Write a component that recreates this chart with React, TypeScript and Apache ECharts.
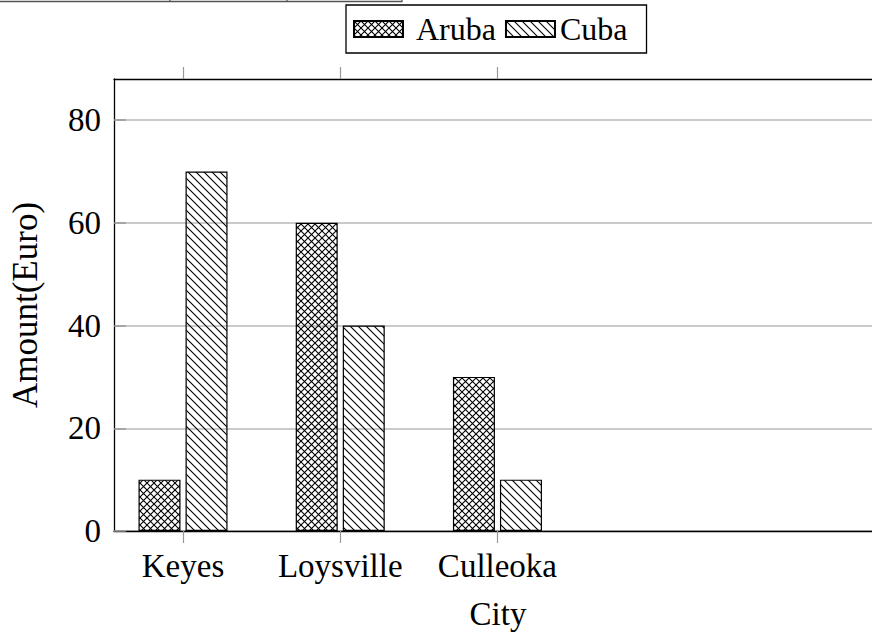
import React, { useEffect, useRef } from "react";
import * as echarts from "echarts";

const categories = ["Keyes", "Loysville", "Culleoka"];
const arubaValues = [10, 60, 30];
const cubaValues = [70, 40, 10];
const yTicks = [0, 20, 40, 60, 80];
const seriesNames = ["Aruba", "Cuba"];

const FONT = "Liberation Serif";

function makeCrosshatch(): HTMLCanvasElement {
  const s = 7;
  const c = document.createElement("canvas");
  c.width = s;
  c.height = s;
  const ctx = c.getContext("2d")!;
  ctx.strokeStyle = "#000";
  ctx.lineWidth = 1.1;
  ctx.beginPath();
  ctx.moveTo(-1, -1);
  ctx.lineTo(s + 1, s + 1);
  ctx.moveTo(-1, s + 1);
  ctx.lineTo(s + 1, -1);
  ctx.stroke();
  return c;
}

function makeNWLines(): HTMLCanvasElement {
  const s = 8;
  const c = document.createElement("canvas");
  c.width = s;
  c.height = s;
  const ctx = c.getContext("2d")!;
  ctx.strokeStyle = "#000";
  ctx.lineWidth = 1.1;
  ctx.beginPath();
  ctx.moveTo(-1, -1);
  ctx.lineTo(s + 1, s + 1);
  ctx.moveTo(-1, s - 1);
  ctx.lineTo(1, s + 1);
  ctx.moveTo(s - 1, -1);
  ctx.lineTo(s + 1, 1);
  ctx.stroke();
  return c;
}

export default function App() {
  const ref = useRef<HTMLDivElement>(null);
  useEffect(() => {
    if (!ref.current) return;
    const chart = echarts.init(ref.current, null, { renderer: "svg" });
    const xMin = -0.439;
    const xMax = 4.446;
    const catIdx = categories.map((_, i) => i);
    const patterns = [
      { image: makeCrosshatch(), repeat: "repeat" },
      { image: makeNWLines(), repeat: "repeat" },
    ];
    const values = [arubaValues, cubaValues];
    const txt = { fontFamily: FONT, fontSize: 33, color: "#000" };
    chart.setOption({
      animation: false,
      backgroundColor: "#fff",
      textStyle: { fontFamily: FONT, color: "#000" },
      grid: { left: 114, top: 79, right: 0, bottom: 108, containLabel: false },
      legend: {
        data: seriesNames,
        left: 346,
        top: 5,
        orient: "horizontal",
        icon: "rect",
        itemWidth: 49,
        itemHeight: 16,
        itemGap: 9,
        padding: [8, 19, 8, 7],
        borderColor: "#000",
        borderWidth: 1.3,
        formatter: (n: string) => (n === "Aruba" ? "\u00a0" + n : n),
        textStyle: { fontFamily: FONT, fontSize: 32, color: "#000" },
      },
      xAxis: [
        {
          type: "value",
          position: "bottom",
          min: xMin,
          max: xMax,
          name: "City",
          nameLocation: "middle",
          nameGap: 66,
          nameTextStyle: txt,
          axisLine: { show: true, onZero: false, lineStyle: { color: "#000", width: 1.3 } },
          axisTick: {
            show: true,
            inside: false,
            length: 12,
            customValues: catIdx,
            lineStyle: { color: "#999", width: 1.2 },
          },
          axisLabel: {
            show: true,
            margin: 18,
            customValues: catIdx,
            formatter: (v: number) => categories[Math.round(v)] ?? "",
            ...txt,
          },
          splitLine: { show: false },
        },
        {
          type: "value",
          position: "top",
          min: xMin,
          max: xMax,
          axisLine: { show: true, onZero: false, lineStyle: { color: "#000", width: 1.3 } },
          axisTick: {
            show: true,
            inside: false,
            length: 12,
            customValues: catIdx,
            lineStyle: { color: "#999", width: 1.2 },
          },
          axisLabel: { show: false },
          splitLine: { show: false },
        },
      ],
      yAxis: {
        type: "value",
        min: 0,
        max: 88,
        interval: 20,
        name: "Amount(Euro)",
        nameLocation: "middle",
        nameRotate: 90,
        nameGap: 71,
        nameTextStyle: { fontFamily: FONT, fontSize: 35, color: "#000" },
        axisLine: { show: true, onZero: false, lineStyle: { color: "#000", width: 1.3 } },
        axisTick: {
          show: true,
          inside: true,
          length: 12,
          customValues: yTicks,
          lineStyle: { color: "#999", width: 1.5 },
        },
        axisLabel: {
          margin: 13,
          customValues: yTicks,
          ...txt,
        },
        splitLine: { show: true, lineStyle: { color: "#b8b8b8", width: 1.5 } },
      },
      graphic: [
        {
          type: "polyline",
          shape: { points: [[0, 1.5], [402, 1.5], [402, 0]] },
          style: { stroke: "#555", lineWidth: 1.3, fill: "none" },
          silent: true,
        },
        {
          type: "line",
          shape: { x1: 170, y1: 0, x2: 170, y2: 2 },
          style: { stroke: "#555", lineWidth: 1.3 },
          silent: true,
        },
        {
          type: "line",
          shape: { x1: 287, y1: 0, x2: 287, y2: 2 },
          style: { stroke: "#555", lineWidth: 1.3 },
          silent: true,
        },
      ],
      series: seriesNames.map((name, si) => ({
        name,
        type: "bar",
        xAxisIndex: 0,
        barWidth: 42,
        barGap: "12%",
        data: values[si].map((v, i) => [i, v]),
        itemStyle: {
          color: patterns[si],
          borderColor: "#000",
          borderWidth: 1.2,
        },
        z: 3,
      })),
    });
    return () => chart.dispose();
  }, []);
  return (
    <div
      style={{
        position: "absolute",
        left: 0,
        top: 0,
        width: 872,
        height: 639,
        overflow: "hidden",
      }}
    >
      <div ref={ref} style={{ width: 882, height: 639 }} />
    </div>
  );
}
